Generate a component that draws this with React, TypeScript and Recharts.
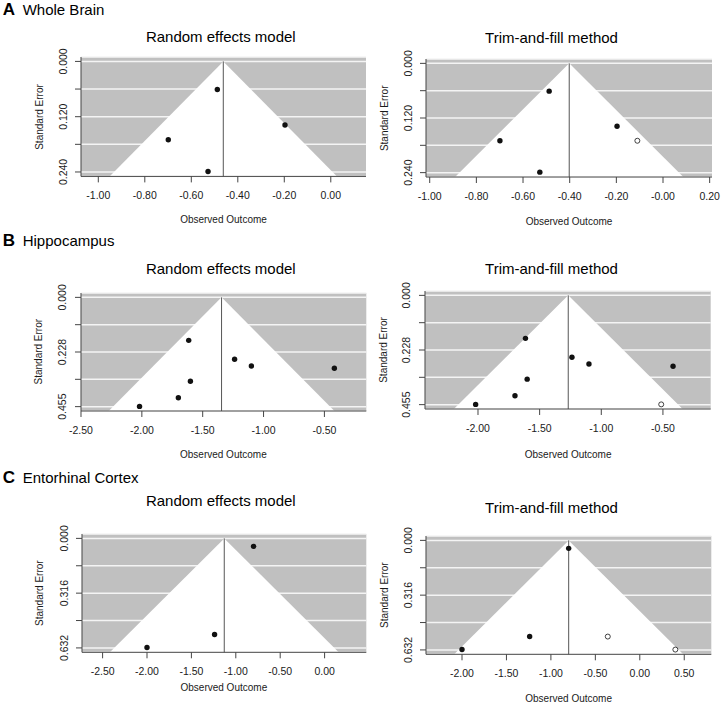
import React from 'react';
import { ScatterChart, Scatter, XAxis, YAxis, CartesianGrid, ReferenceArea, ReferenceLine } from 'recharts';

const FONT = '"Liberation Sans", Arial, Helvetica, sans-serif';

// ---------- data ----------
const wholeBrainObserved = [
  { x: -0.488, se: 0.061 },
  { x: -0.197, se: 0.138 },
  { x: -0.699, se: 0.170 },
  { x: -0.528, se: 0.239 },
];
const wholeBrainImputed = [{ x: -0.110, se: 0.170 }];

const hippocampusObserved = [
  { x: -1.615, se: 0.179 },
  { x: -1.238, se: 0.258 },
  { x: -1.100, se: 0.286 },
  { x: -0.418, se: 0.295 },
  { x: -1.601, se: 0.349 },
  { x: -1.700, se: 0.418 },
  { x: -2.019, se: 0.454 },
];
const hippocampusImputed = [{ x: -0.514, se: 0.454 }];

const entorhinalObserved = [
  { x: -0.800, se: 0.046 },
  { x: -1.239, se: 0.555 },
  { x: -2.000, se: 0.630 },
];
const entorhinalImputed = [
  { x: -0.360, se: 0.555 },
  { x: 0.400, se: 0.630 },
];

// pooled estimates: [random effects, trim-and-fill]
const wholeBrainEstimates = [-0.4624, -0.402];
const hippocampusEstimates = [-1.345, -1.268];
const entorhinalEstimates = [-1.130, -0.800];

// max standard errors (y axis)
const maxStandardErrors = [0.24, 0.455, 0.632];

// tick values and labels
const wbXTicksRE = [-1.0, -0.8, -0.6, -0.4, -0.2, 0.0];
const wbXLabelsRE = ['-1.00', '-0.80', '-0.60', '-0.40', '-0.20', '0.00'];
const wbXTicksTF = [-1.0, -0.8, -0.6, -0.4, -0.2, 0.0, 0.2];
const wbXLabelsTF = ['-1.00', '-0.80', '-0.60', '-0.40', '-0.20', '-0.00', '0.20'];
const wbYLabels = ['0.000', '', '0.120', '', '0.240'];

const hcXTicksRE = [-2.5, -2.0, -1.5, -1.0, -0.5];
const hcXLabelsRE = ['-2.50', '-2.00', '-1.50', '-1.00', '-0.50'];
const hcXTicksTF = [-2.0, -1.5, -1.0, -0.5];
const hcXLabelsTF = ['-2.00', '-1.50', '-1.00', '-0.50'];
const hcYLabels = ['0.000', '', '0.228', '', '0.455'];

const ecXTicksRE = [-2.5, -2.0, -1.5, -1.0, -0.5, 0.0];
const ecXLabelsRE = ['-2.50', '-2.00', '-1.50', '-1.00', '-0.50', '0.00'];
const ecXTicksTF = [-2.0, -1.5, -1.0, -0.5, 0.0, 0.5];
const ecXLabelsTF = ['-2.00', '-1.50', '-1.00', '-0.50', '0.00', '0.50'];
const ecYLabels = ['0.000', '', '0.316', '', '0.632'];

const panelLetters = ['A', 'B', 'C'];
const panelNames = ['Whole Brain', 'Hippocampus', 'Entorhinal Cortex'];
const plotTitles = ['Random effects model', 'Trim-and-fill method'];
const xAxisTitle = 'Observed Outcome';
const yAxisTitle = 'Standard Error';

// ---------- layout ----------
const ML = 80, MT = 60, MR = 20, MB = 60;

type Rect = { x: number; y: number; w: number; h: number };

const seTicks = (m: number) => [0, m / 4, m / 2, (3 * m) / 4, m];

const Dot = (p: any) => <circle cx={p.cx} cy={p.cy} r={2.7} fill="#111" />;
const OpenDot = (p: any) => <circle cx={p.cx} cy={p.cy} r={2.5} fill="#fff" stroke="#111" strokeWidth={0.8} />;
const Triangle = (p: any) => {
  const { x, y, width, height } = p;
  return <polygon points={`${x + width / 2},${y} ${x},${y + height} ${x + width},${y + height}`} fill="#ffffff" stroke="none" />;
};

function Funnel(props: {
  rect: Rect; xDomain: [number, number]; xTicks: number[]; xLabels: string[];
  yMax: number; yLabels: string[]; est: number; observed: any[]; imputed?: any[];
}) {
  const { rect, xDomain, xTicks, xLabels, yMax, yLabels, est, observed, imputed } = props;
  const width = rect.w + ML + MR;
  const height = rect.h + MT + MB;
  const yLo = -0.04 * yMax;
  const yHi = 1.04 * yMax;
  const yTicks = seTicks(yMax);
  const XTick = (p: any) => {
    const i = xTicks.findIndex((t) => Math.abs(t - p.payload.value) < 1e-9);
    return (
      <text x={p.x} y={MT + rect.h + 22.8} textAnchor="middle" fontSize={10.5} fill="#1a1a1a" fontFamily={FONT}>
        {i >= 0 ? xLabels[i] : ''}
      </text>
    );
  };
  const YTick = (p: any) => {
    const i = yTicks.findIndex((t) => Math.abs(t - p.payload.value) < 1e-9);
    const lbl = i >= 0 ? yLabels[i] : '';
    if (!lbl) return <g />;
    return (
      <text transform={`translate(${ML - 14.5},${p.y}) rotate(-90)`} textAnchor="middle" fontSize={10.5} fill="#1a1a1a" fontFamily={FONT}>
        {lbl}
      </text>
    );
  };
  return (
    <div style={{ position: 'absolute', left: rect.x - ML, top: rect.y - MT }}>
      <ScatterChart width={width} height={height} margin={{ top: MT, right: MR, bottom: 0, left: 0 }}>
        <CartesianGrid vertical={false} horizontal stroke="#f4f4f4" strokeWidth={1.5} fill="#c0c0c0" fillOpacity={1} />
        <XAxis type="number" dataKey="x" domain={xDomain} ticks={xTicks} interval={0} allowDataOverflow
          height={MB} tick={XTick} tickSize={6} axisLine={{ stroke: '#444' }} tickLine={{ stroke: '#444' }} />
        <YAxis type="number" dataKey="se" domain={[yLo, yHi]} reversed ticks={yTicks} interval={0} allowDataOverflow
          width={ML} tick={YTick} tickSize={6} axisLine={{ stroke: '#444' }} tickLine={{ stroke: '#444' }} />
        <ReferenceArea x1={est - 1.96 * yHi} x2={est + 1.96 * yHi} y1={0} y2={yHi} shape={Triangle} ifOverflow="visible" />
        <ReferenceLine segment={[{ x: est, y: 0 }, { x: est, y: yHi }]} stroke="#555" strokeWidth={1} ifOverflow="visible" />
        <Scatter data={observed} shape={Dot} isAnimationActive={false} />
        {imputed ? <Scatter data={imputed} shape={OpenDot} isAnimationActive={false} /> : null}
      </ScatterChart>
    </div>
  );
}

const panels = [
  { rect: { x: 81, y: 57.3, w: 285, h: 119.4 }, xDomain: [-1.0744, 0.1514] as [number, number], xTicks: wbXTicksRE, xLabels: wbXLabelsRE, yMax: maxStandardErrors[0], yLabels: wbYLabels, est: wholeBrainEstimates[0], observed: wholeBrainObserved, imputed: undefined as any, titleX: 220.8, titleY: 41.7, labY: 223.3 },
  { rect: { x: 426, y: 59.3, w: 286, h: 118 }, xDomain: [-1.0159, 0.21] as [number, number], xTicks: wbXTicksTF, xLabels: wbXLabelsTF, yMax: maxStandardErrors[0], yLabels: wbYLabels, est: wholeBrainEstimates[1], observed: wholeBrainObserved, imputed: wholeBrainImputed, titleX: 551.5, titleY: 43.3, labY: 225 },
  { rect: { x: 80.7, y: 292.7, w: 285.3, h: 118 }, xDomain: [-2.5, -0.1557] as [number, number], xTicks: hcXTicksRE, xLabels: hcXLabelsRE, yMax: maxStandardErrors[1], yLabels: hcYLabels, est: hippocampusEstimates[0], observed: hippocampusObserved, imputed: undefined as any, titleX: 220.8, titleY: 274, labY: 457.7 },
  { rect: { x: 425.3, y: 291, w: 285.7, h: 118 }, xDomain: [-2.4298, -0.1127] as [number, number], xTicks: hcXTicksTF, xLabels: hcXLabelsTF, yMax: maxStandardErrors[1], yLabels: hcYLabels, est: hippocampusEstimates[1], observed: hippocampusObserved, imputed: hippocampusImputed, titleX: 551.5, titleY: 273.7, labY: 457.7 },
  { rect: { x: 81.7, y: 534, w: 284.3, h: 118.3 }, xDomain: [-2.732, 0.4696] as [number, number], xTicks: ecXTicksRE, xLabels: ecXLabelsRE, yMax: maxStandardErrors[2], yLabels: ecYLabels, est: entorhinalEstimates[0], observed: entorhinalObserved, imputed: undefined as any, titleX: 220.8, titleY: 506.3, labY: 691 },
  { rect: { x: 426, y: 536, w: 285.3, h: 118.3 }, xDomain: [-2.405, 0.8043] as [number, number], xTicks: ecXTicksTF, xLabels: ecXLabelsTF, yMax: maxStandardErrors[2], yLabels: ecYLabels, est: entorhinalEstimates[1], observed: entorhinalObserved, imputed: entorhinalImputed, titleX: 551.5, titleY: 512.7, labY: 701.7 },
];

const sectionLabelY = [15, 245.7, 483.3];

export default function App() {
  return (
    <div style={{ position: 'absolute', left: 0, top: 0, width: 723, height: 708, background: '#fff', overflow: 'hidden' }}>
      {panels.map((p, i) => (
        <Funnel key={i} rect={p.rect} xDomain={p.xDomain} xTicks={p.xTicks} xLabels={p.xLabels} yMax={p.yMax}
          yLabels={p.yLabels} est={p.est} observed={p.observed} imputed={p.imputed} />
      ))}
      <svg width={723} height={708} style={{ position: 'absolute', left: 0, top: 0, pointerEvents: 'none' }} fontFamily={FONT}>
        {panelLetters.map((l, i) => (
          <g key={l}>
            <text x={2.7} y={sectionLabelY[i]} fontSize={17} fontWeight="bold" fill="#000">{l}</text>
            <text x={22.7} y={sectionLabelY[i]} fontSize={15} fill="#000">{panelNames[i]}</text>
          </g>
        ))}
        {panels.map((p, i) => (
          <g key={'t' + i}>
            <text x={p.titleX} y={p.titleY} fontSize={15} textAnchor="middle" fill="#000">{plotTitles[i % 2]}</text>
            <text x={p.rect.x + p.rect.w / 2} y={p.labY} fontSize={10} textAnchor="middle" fill="#1a1a1a">{xAxisTitle}</text>
            <text transform={`translate(${p.rect.x - 38.5},${p.rect.y + p.rect.h / 2}) rotate(-90)`} fontSize={10} textAnchor="middle" fill="#1a1a1a">{yAxisTitle}</text>
          </g>
        ))}
      </svg>
    </div>
  );
}
